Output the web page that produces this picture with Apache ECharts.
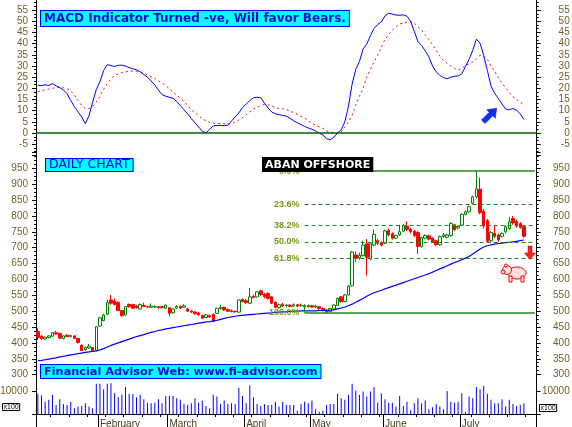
<!DOCTYPE html>
<html>
<head>
<meta charset="utf-8" />
<script src="https://cdn.jsdelivr.net/npm/echarts@6/dist/echarts.min.js"></script>
<style>
  html, body { margin: 0; padding: 0; background: #fff; }
  #chart { width: 572px; height: 427px; }
</style>
</head>
<body>
<div id="chart"></div>
<script>
// month ticks on the time axis (index of first trading day of each month)
var monthNames = ['February', 'March', 'April', 'May', 'June', 'July'];
var monthStarts = [17, 36, 57, 75, 95, 116];
var padDays = 3; // empty slots right of the last bar

// daily candles: [open, close, low, high]
var candles = [
  // Jan
  [436,417,409,446],[421,414,410,425],[412,418,410,420],[417,422,414,424],[421,432,419,434],
  [432,428,426,438],[430,415,413,432],[414,422,411,424],[424,420,418,427],[420,423,417,426],
  [422,414,412,424],[414,401,398,416],[393,376,374,395],[378,386,376,388],[384,390,381,397],
  [385,376,374,387],[376,451,374,453],
  // Feb
  [453,479,451,481],[470,488,468,492],[490,527,488,536],[535,525,520,551],[532,521,518,540],
  [528,502,500,530],[502,486,483,504],[488,514,486,516],[521,514,511,524],[521,509,507,523],
  [516,511,508,519],[507,521,505,524],[518,515,512,527],[514,513,510,518],[512,516,510,524],
  [513,514,510,518],[514,511,508,516],[514,511,509,517],[509,519,507,521],
  // Mar
  [511,493,484,513],[495,507,493,509],[510,515,508,519],[515,510,507,518],[512,517,510,522],
  [507,500,498,510],[500,497,494,503],[497,492,489,500],[494,488,486,497],[486,478,475,489],
  [480,488,478,491],[486,482,478,489],[490,468,465,492],[493,509,491,511],[508,512,505,520],
  [512,504,501,515],[505,500,497,508],[501,499,496,505],[499,498,495,502],[497,535,495,537],
  [537,530,527,540],
  // Apr
  [533,527,522,538],[525,545,522,573],[546,543,540,552],[545,561,543,563],[564,552,548,567],
  [553,545,540,557],[556,540,537,559],[545,525,522,548],[528,512,509,530],[511,520,508,524],
  [521,516,513,526],[517,519,513,523],[519,515,512,522],[516,520,513,524],[520,516,513,523],
  [517,519,514,524],[518,514,511,521],[514,518,511,521],
  // May
  [517,513,510,520],[513,516,510,520],[514,508,505,517],[509,503,499,511],[504,497,494,506],
  [499,508,497,510],[507,519,505,522],[518,540,516,543],[545,530,527,548],[530,551,528,554],
  [551,579,549,582],[580,686,578,689],[677,667,655,688],[668,676,662,684],[675,708,672,722],
  [712,670,612,727],[665,712,660,716],[708,742,705,757],[722,714,708,728],[716,708,704,720],
  // Jun
  [714,753,711,757],[754,740,736,760],[744,730,726,748],[730,738,727,741],[740,750,737,772],
  [752,770,749,775],[768,757,752,783],[758,750,745,762],[752,738,734,756],[748,704,680,752],
  [703,732,700,735],[730,738,726,742],[737,727,723,741],[730,718,714,733],[722,709,706,725],
  [709,735,706,738],[736,740,731,746],[733,740,729,744],[738,776,735,780],[772,757,753,775],
  [762,767,758,770],
  // Jul
  [771,805,768,808],[805,813,801,817],[813,829,810,832],[840,860,836,864],[860,885,855,941],
  [884,810,805,921],[815,768,760,822],[785,720,715,790],[722,748,716,752],[745,736,730,768],
  [740,724,718,744],[736,745,732,748],[750,766,745,770],[760,782,756,797],[792,778,772,800],
  [782,768,763,788],[776,764,760,780],[766,736,731,769]
];

// 50 day moving average
var ma50 = [
  344,345,347,349,351,353,356,358,360,362,364,366,368,370,372,373,375,
  378,382,387,392,396,400,404,408,412,416,420,423,426,430,433,436,439,441,444,
  446,448,450,452,454,456,458,460,462,464,466,467,469,471,474,477,480,482,484,486,487,
  488,489,490,491,492,493,494,495,496,497,498,498,499,500,500,501,501,501,
  501,501,502,502,502,503,504,507,510,513,517,522,528,534,540,547,553,558,562,566,
  570,574,578,582,586,590,594,598,602,606,610,614,618,623,628,633,638,643,648,653,657,
  662,667,672,680,688,696,702,706,709,711,713,714,716,717,718,720,722,724
];

// MACD line and its signal line
var macd = [
  21.4,21.2,21.6,21.3,22.1,21.2,20.3,19.3,17.6,14.6,
  11.8,9.6,7.2,4.2,7.8,13.8,19.5,23.0,28.0,30.6,
  30.2,29.8,30.3,30.4,30.0,29.3,28.8,28.3,27.4,26.2,
  25.0,23.3,21.5,19.2,17.2,16.5,16.0,15.6,14.2,12.3,
  10.4,8.6,6.5,4.6,2.8,0.8,0.1,1.7,3.2,3.4,
  3.4,3.3,3.5,5.4,7.2,9.0,11.4,13.0,14.5,15.8,
  16.0,15.8,13.4,11.2,9.4,8.6,8.2,7.9,7.6,6.6,
  5.5,4.6,3.8,3.0,2.3,1.7,1.0,0.0,-0.9,-2.5,
  -3.0,-1.8,0.0,1.5,5.0,12.0,22.0,28.5,32.0,37.6,
  39.8,43.6,46.8,48.6,49.7,52.5,53.6,53.2,52.8,52.7,
  52.9,52.3,50.0,45.5,41.0,39.2,36.8,34.1,30.0,27.4,
  25.8,24.8,24.3,25.0,25.4,25.5,26.5,29.7,33.0,37.0,
  42.0,40.2,34.6,28.0,21.0,17.8,15.5,13.0,10.8,10.4,
  11.0,10.2,8.6,6.1
];
var signal = [
  18.6,19.0,19.4,19.7,20.0,20.4,20.4,20.3,19.8,18.9,
  17.0,14.6,12.4,11.0,10.9,12.0,13.9,16.5,19.6,22.2,
  24.2,25.8,26.5,27.0,27.4,27.6,27.8,27.7,27.3,26.8,
  26.0,25.3,24.5,23.4,22.4,21.3,19.9,18.4,16.9,15.6,
  14.2,12.3,10.4,9.0,7.8,6.3,5.6,4.8,4.5,4.3,
  4.2,4.1,4.0,4.2,5.0,5.9,6.9,8.2,9.5,10.8,
  11.6,12.3,12.8,12.6,12.2,11.4,11.0,10.8,10.6,9.8,
  9.2,8.4,7.5,6.7,5.6,4.4,3.6,2.8,2.1,1.0,
  0.4,0.0,0.1,0.5,2.6,5.0,8.0,12.5,16.5,20.0,
  25.0,28.5,31.8,35.0,38.4,42.0,44.0,46.0,47.6,48.8,
  49.2,49.6,49.8,49.2,47.6,46.0,44.0,41.8,39.6,37.0,
  34.4,32.4,31.2,30.0,29.0,28.3,29.0,30.2,31.0,31.8,
  33.2,34.8,34.4,33.0,30.0,27.6,24.8,22.4,20.2,18.2,
  16.3,15.0,13.8,12.5
];

// volume, in hundreds of shares
var volume = [
  8700,8000,5300,6100,8300,3900,6400,4300,3900,5300,
  2500,3200,3500,4600,3200,2500,13000,13000,10700,13000,
  13300,9000,7200,8300,11600,8600,8600,7200,8300,6400,
  4900,4600,4900,6400,4600,7800,7800,7800,6800,6100,
  4300,3900,4600,6800,4900,5800,3500,2500,8300,7500,
  4300,5800,4300,4600,4300,11300,7800,4600,12300,7200,
  4300,3500,4300,3900,3900,5300,3200,5300,3900,3900,
  3900,1400,4300,5300,4600,5800,2000,1000,1400,3900,
  4300,4300,8700,6800,6100,8300,13000,10100,8300,9700,
  7500,9700,11600,4900,9000,6400,4900,4900,3200,7800,
  3500,5300,1600,4600,6800,4600,5800,2000,2900,4300,
  3200,2000,9900,5300,4900,5300,9000,1000,7500,6800,
  11600,10700,12200,8700,6100,4600,4600,6400,3200,6100,
  4300,3500,3900,4600
];

// fibonacci retracement drawn from the May low to the July high
var fibHigh = 941, fibLow = 495, fibStart = 73;
var fibLevels = [0, 23.6, 38.2, 50, 61.8, 100];

var days = [];
for (var i = 0; i < candles.length + padDays; i++) days.push(String(i));
var lastDay = days.length - 1;

var labelColor = '#7a5c24';
var labelFont = 'Liberation Sans';

function yAxis(grid, pos, min, max, step, minorSplit, hidden) {
  return {
    type: 'value', gridIndex: grid, position: pos,
    min: min, max: max, interval: step,
    axisLine: { show: true, lineStyle: { color: '#000', width: 1 } },
    axisTick: { show: true, length: 4, lineStyle: { color: '#000' } },
    minorTick: { show: minorSplit > 0, splitNumber: minorSplit || 5, length: 2, lineStyle: { color: '#000' } },
    splitLine: { show: false },
    minorSplitLine: { show: false },
    axisLabel: {
      color: labelColor, fontSize: 10, fontFamily: labelFont,
      margin: pos === 'left' ? 8 : 33, align: 'right',
      formatter: function (v) { return hidden.indexOf(v) >= 0 ? '' : String(v); }
    }
  };
}

function hiddenX(grid) {
  return { type: 'category', gridIndex: grid, data: days, boundaryGap: true, show: false };
}

var fibLines = fibLevels.map(function (p) {
  var v = fibHigh - (fibHigh - fibLow) * p / 100;
  var solid = (p === 0 || p === 100);
  return [
    {
      coord: [fibStart, v],
      lineStyle: { type: solid ? 'solid' : [4, 3], width: solid ? 1.5 : 1.2, color: '#1f8a1f' },
      label: { formatter: p.toFixed(1) + '%' }
    },
    { coord: [lastDay, v] }
  ];
});
fibLines.push([
  { coord: [fibStart, fibLow], lineStyle: { type: 'solid', width: 1.2, color: '#1f8a1f' }, label: { show: false } },
  { coord: [fibStart, 521] }
]);

var chart = echarts.init(document.getElementById('chart'));

var option = {
  animation: false,
  backgroundColor: '#fff',
  grid: [
    { left: 36, right: 35.3, top: -1.06, height: 156.5, outerBoundsMode: 'none' },
    { left: 36, right: 35.3, top: 152.4, height: 222.25, outerBoundsMode: 'none' },
    { left: 36, right: 35.3, top: 374.6, height: 39.4, outerBoundsMode: 'none' }
  ],
  xAxis: [
    hiddenX(0),
    hiddenX(1),
    {
      type: 'category', gridIndex: 2, data: days, boundaryGap: true, position: 'bottom',
      axisLine: { show: true, lineStyle: { color: '#000', width: 1 } },
      axisTick: {
        show: true, length: 14, lineStyle: { color: '#000' },
        interval: function (idx) { return idx === 0 || monthStarts.indexOf(idx) >= 0; }
      },
      axisLabel: {
        color: '#4a3a1a', fontSize: 10, fontFamily: labelFont, margin: 5, align: 'left',
        interval: function (idx) { return monthStarts.indexOf(idx) >= 0; },
        formatter: function (v, idx) {
          var k = monthStarts.indexOf(idx);
          return k >= 0 ? monthNames[k] : '';
        }
      },
      splitLine: { show: false }
    },
    {
      type: 'category', gridIndex: 2, data: days, boundaryGap: true, position: 'bottom',
      axisLine: { show: false },
      axisTick: {
        show: true, length: 3, lineStyle: { color: '#000' },
        interval: function (idx) { return idx % 5 === 4; }
      },
      axisLabel: { show: false },
      splitLine: { show: false }
    }
  ],
  yAxis: [
    yAxis(0, 'left', -10, 60, 5, 3, [-10, 60]),
    yAxis(0, 'right', -10, 60, 5, 3, [-10, 60]),
    yAxis(1, 'left', 300, 1000, 50, 4, [1000]),
    yAxis(1, 'right', 300, 1000, 50, 4, [1000]),
    yAxis(2, 'left', 0, 17000, 10000, 0, [0, 17000]),
    yAxis(2, 'right', 0, 17000, 10000, 0, [0, 17000])
  ],
  series: [
    {
      name: 'MACD', type: 'line', xAxisIndex: 0, yAxisIndex: 0, data: macd,
      showSymbol: false, lineStyle: { color: '#0000ff', width: 1 }, z: 3,
      markLine: {
        silent: true, symbol: ['none', 'none'], label: { show: false },
        lineStyle: { color: '#006400', width: 1.5, type: 'solid' },
        data: [{ yAxis: 0 }]
      }
    },
    {
      name: 'Signal', type: 'line', xAxisIndex: 0, yAxisIndex: 0, data: signal,
      showSymbol: false, lineStyle: { color: '#ff0000', width: 1, type: [2, 3] }, z: 2
    },
    {
      name: 'Price', type: 'candlestick', xAxisIndex: 1, yAxisIndex: 2, data: candles,
      barWidth: 3,
      itemStyle: {
        color: '#ffffff', color0: '#ff0000',
        borderColor: '#008000', borderColor0: '#ff0000', borderWidth: 1
      },
      markLine: {
        silent: true, symbol: ['none', 'none'],
        label: {
          show: true, position: 'start', distance: 5,
          color: '#6f9a10', fontSize: 9, fontWeight: 'bold', fontFamily: labelFont
        },
        data: fibLines
      },
      z: 3
    },
    {
      name: 'MA50', type: 'line', xAxisIndex: 1, yAxisIndex: 2, data: ma50,
      showSymbol: false, lineStyle: { color: '#0000ff', width: 1.2 }, z: 4
    },
    {
      name: 'Volume', type: 'bar', xAxisIndex: 2, yAxisIndex: 4, data: volume,
      barWidth: 1, itemStyle: { color: '#0000ff' }
    }
  ],
  graphic: [
    {
      type: 'text', left: 40, top: 10, z: 100,
      style: {
        text: 'MACD Indicator Turned -ve, Will favor Bears.',
        font: 'bold 12px "DejaVu Sans"', fill: '#0b0bd0', lineHeight: 13,
        backgroundColor: '#00ffff', borderColor: '#0000ff', borderWidth: 1, padding: [1, 3, 1, 3]
      }
    },
    {
      type: 'text', left: 45, top: 158, z: 100,
      style: {
        text: 'DAILY CHART', font: '12.5px "DejaVu Sans"', fill: '#0000ff', lineHeight: 12,
        backgroundColor: '#00ffff', borderColor: '#0000ff', borderWidth: 1, padding: [0, 3, 0, 3]
      }
    },
    {
      type: 'text', left: 262, top: 157, z: 100,
      style: {
        text: 'ABAN OFFSHORE', font: 'bold 11px "DejaVu Sans"', fill: '#ffffff', lineHeight: 12,
        backgroundColor: '#000000', padding: [2, 3, 1, 3]
      }
    },
    {
      type: 'text', left: 40, top: 364, z: 100,
      style: {
        text: 'Financial Advisor Web: www.fi-advisor.com',
        font: 'bold 11.3px "DejaVu Sans"', fill: '#0b0bd0', lineHeight: 12,
        backgroundColor: '#00ffff', borderColor: '#0000ff', borderWidth: 1, padding: [1, 3, 0, 3]
      }
    },
    {
      type: 'text', left: 2, top: 403, z: 100,
      style: { text: 'x100', font: '7px "Liberation Sans"', fill: '#000', borderColor: '#000', borderWidth: 1, padding: [0, 1, 0, 1] }
    },
    {
      type: 'text', left: 539, top: 404, z: 100,
      style: { text: 'x100', font: '7px "Liberation Sans"', fill: '#000', borderColor: '#000', borderWidth: 1, padding: [0, 1, 0, 1] }
    },
    {
      // blue arrow pointing up-right
      type: 'polygon', x: 489.6, y: 115.4, z: 100,
      shape: { points: [[7.07, -7.07], [-2.83, -5.66], [-0.35, -3.18], [-8.13, 4.6], [-4.6, 8.13], [3.18, 0.35], [5.66, 2.83]] },
      style: { fill: '#1030ff', stroke: '#0000b0', lineWidth: 0.5 }
    },
    {
      // red arrow pointing down
      type: 'polygon', z: 100,
      shape: { points: [[528, 246], [532, 246], [532, 253], [535.5, 253], [530, 259.5], [524.5, 253], [528, 253]] },
      style: { fill: '#ff2020', stroke: '#cc0000', lineWidth: 0.5 }
    },
    {
      // bear sketch
      type: 'group', z: 100,
      children: [
        { type: 'ellipse', shape: { cx: 517, cy: 273, rx: 9, ry: 6 }, style: { fill: '#ffe0e0', stroke: '#ff0000', lineWidth: 1 } },
        { type: 'rect', shape: { x: 509, y: 276, width: 3, height: 6 }, style: { fill: '#ffe0e0', stroke: '#ff0000', lineWidth: 1 } },
        { type: 'rect', shape: { x: 521, y: 276, width: 3, height: 6 }, style: { fill: '#ffe0e0', stroke: '#ff0000', lineWidth: 1 } },
        { type: 'circle', shape: { cx: 507, cy: 270, r: 4.5 }, style: { fill: '#ffe0e0', stroke: '#ff0000', lineWidth: 1 } },
        { type: 'circle', shape: { cx: 503, cy: 272, r: 2 }, style: { fill: '#ffe0e0', stroke: '#ff0000', lineWidth: 1 } },
        { type: 'circle', shape: { cx: 506, cy: 265.5, r: 1.5 }, style: { fill: '#ffe0e0', stroke: '#ff0000', lineWidth: 1 } }
      ]
    }
  ]
};

chart.setOption(option);
</script>
</body>
</html>
